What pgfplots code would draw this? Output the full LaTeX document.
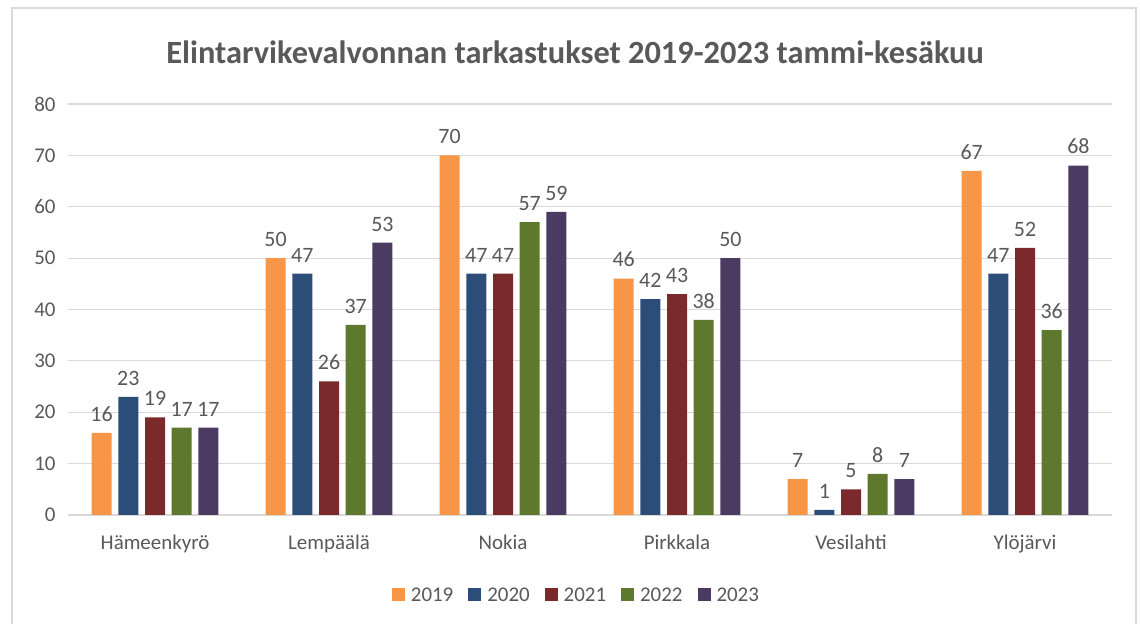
\documentclass[border=0pt]{standalone}
\usepackage{pgfplots}
\pgfplotsset{compat=1.18}
\usepackage{fontspec}
\setmainfont{Carlito}
\definecolor{c19}{HTML}{F79646}
\definecolor{c20}{HTML}{2C4D78}
\definecolor{c21}{HTML}{7A2A2A}
\definecolor{c22}{HTML}{5E782E}
\definecolor{c23}{HTML}{4B3A62}
\definecolor{txt}{HTML}{595959}
\definecolor{grd}{HTML}{D9D9D9}
\begin{document}
\begin{tikzpicture}[x=1bp,y=1bp]
\useasboundingbox (0,0) rectangle (1140,624);
\fill[white] (0,0) rectangle (1140,624);
\draw[grd, line width=1.5bp] (12,-2) rectangle (1136,616);
\node[font=\fontsize{32.5}{36}\selectfont\bfseries, text=txt] at (575,572) {Elintarvikevalvonnan tarkastukset 2019-2023 tammi-kesäkuu};
\begin{axis}[
  at={(68bp,109bp)}, anchor=south west,
  scale only axis, width=1044bp, height=411bp,
  ymin=0, ymax=80, ytick={0,10,...,80},
  xmin=-0.5, xmax=5.5,
  xtick={0,1,2,3,4,5},
  xticklabels={Hämeenkyrö,Lempäälä,Nokia,Pirkkala,Vesilahti,Ylöjärvi},
  ybar=6.7bp, bar width=20bp,
  axis line style={draw=none},
  major tick length=0pt,
  ymajorgrids, grid style={grd, line width=1.2bp},
  tick label style={font=\fontsize{21}{24}\selectfont, text=txt},
  /pgf/number format/assume math mode=true,
  yticklabel style={xshift=-9bp},
  xticklabel style={yshift=-16bp},
  nodes near coords,
  every node near coord/.append style={font=\fontsize{22}{25}\selectfont, text=txt, yshift=8bp},
  legend style={at={(0.487,-0.195)}, anchor=center, draw=none, legend columns=5,
    font=\fontsize{21}{24}\selectfont, text=txt,
    /tikz/every even column/.append style={column sep=13bp}},
  legend image code/.code={\fill[#1] (0bp,-6bp) rectangle (13bp,7bp); \path (17bp,0bp);},
]
\addplot[fill=c19, draw=none] coordinates {(0,16) (1,50) (2,70) (3,46) (4,7) (5,67)};
\addplot[fill=c20, draw=none] coordinates {(0,23) (1,47) (2,47) (3,42) (4,1) (5,47)};
\addplot[fill=c21, draw=none] coordinates {(0,19) (1,26) (2,47) (3,43) (4,5) (5,52)};
\addplot[fill=c22, draw=none] coordinates {(0,17) (1,37) (2,57) (3,38) (4,8) (5,36)};
\addplot[fill=c23, draw=none] coordinates {(0,17) (1,53) (2,59) (3,50) (4,7) (5,68)};
\legend{2019,2020,2021,2022,2023}
\end{axis}
\end{tikzpicture}
\end{document}
